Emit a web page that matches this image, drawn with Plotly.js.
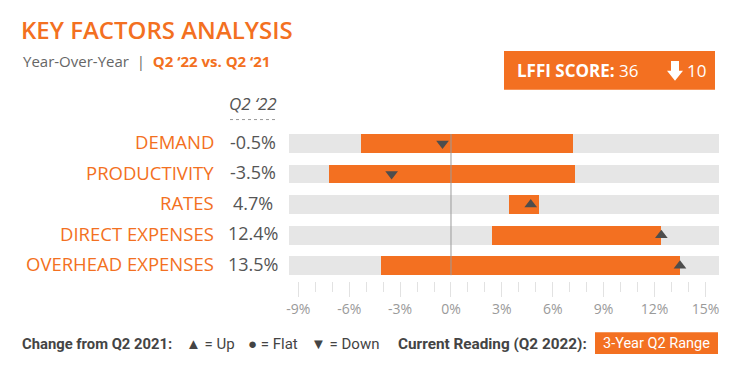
<!DOCTYPE html>
<html>
<head>
<meta charset="utf-8">
<script src="https://cdn.plot.ly/plotly-3.0.1.min.js"></script>
<style>html,body{margin:0;padding:0;background:#fff;}#chart{width:739px;height:373px;}</style>
</head>
<body>
<div id="chart"></div>
<script>
// ---- data ----
const categories = ['DEMAND', 'PRODUCTIVITY', 'RATES', 'DIRECT EXPENSES', 'OVERHEAD EXPENSES'];
const currentReading = [-0.5, -3.5, 4.7, 12.4, 13.5];
const rangeLow = [-5.3, -7.2, 3.4, 2.4, -4.1];
const rangeHigh = [7.2, 7.3, 5.2, 12.4, 13.5];
const changeDirection = ['down', 'down', 'up', 'up', 'up'];
const tickValues = [-9, -6, -3, 0, 3, 6, 9, 12, 15];
const tickLabels = ['-9%', '-6%', '-3%', '0%', '3%', '6%', '9%', '12%', '15%'];
const lffiScore = 36;
const lffiChange = 10;

// ---- layout helpers ----
const W = 739, H = 373;
const M = {l: 289, r: 20, t: 126.5, b: 91.5};
const PW = W - M.l - M.r, PH = H - M.t - M.b;
const px = x => (x - M.l) / PW;
const py = y => (H - M.b - y) / PH;
const axisMin = -9.55, axisMax = 15.8;

const ORANGE = '#F37021';
const GREY_BG = '#E6E6E6';
const DARK = '#555555';
const FONT = 'Open Sans';

const traces = [
  {
    type: 'bar', orientation: 'h', y: categories,
    x: categories.map(() => axisMax - axisMin), base: axisMin,
    marker: {color: GREY_BG}, width: 0.613, hoverinfo: 'skip', showlegend: false
  },
  {
    type: 'bar', orientation: 'h', y: categories,
    x: rangeHigh.map((h, i) => h - rangeLow[i]), base: rangeLow,
    marker: {color: ORANGE}, width: 0.613, showlegend: false
  },
  {
    type: 'scatter', mode: 'markers', y: categories, x: currentReading,
    marker: {
      symbol: changeDirection.map(d => d === 'up' ? 'triangle-up' : (d === 'down' ? 'triangle-down' : 'circle')),
      size: 11, color: '#4D4D4D', line: {width: 0}
    },
    showlegend: false
  }
];

const annotations = [];
categories.forEach((c, i) => {
  annotations.push({
    xref: 'paper', yref: 'y', x: px(216), y: c, xanchor: 'right', yanchor: 'middle', yshift: 2,
    text: c, showarrow: false, font: {family: FONT, size: 18.5, color: ORANGE}
  });
  annotations.push({
    xref: 'paper', yref: 'y', x: px(253), y: c, xanchor: 'center', yanchor: 'middle', yshift: 2,
    text: currentReading[i].toFixed(1) + '%', showarrow: false, font: {family: FONT, size: 18, color: DARK}
  });
});
// column header
annotations.push({
  xref: 'paper', yref: 'paper', x: px(253), y: py(103), xanchor: 'center', yanchor: 'middle',
  text: '<i>Q2 ‘22</i>', showarrow: false, font: {family: FONT, size: 17, color: DARK}
});
// subtitle
annotations.push({
  xref: 'paper', yref: 'paper', x: px(21), y: py(60), xanchor: 'left', yanchor: 'middle',
  text: 'Year-Over-Year  |  <b><span style="color:' + ORANGE + '">Q2 ‘22 vs. Q2 ‘21</span></b>',
  showarrow: false, font: {family: FONT, size: 15, color: '#666666'}
});
// score box texts
annotations.push({
  xref: 'paper', yref: 'paper', x: px(515), y: py(70), xanchor: 'left', yanchor: 'middle',
  text: '<b>LFFI SCORE:</b> ' + lffiScore, showarrow: false, font: {family: FONT, size: 17, color: '#FFFFFF'}
});
annotations.push({
  xref: 'paper', yref: 'paper', x: px(685), y: py(70), xanchor: 'left', yanchor: 'middle',
  text: String(lffiChange), showarrow: false, font: {family: FONT, size: 17, color: '#FFFFFF'}
});
// footer legend
[
  ['<b>Change from Q2 2021:</b>', 20, 14.8],
  ['▲ = Up', 184, 15],
  ['● = Flat', 246, 15],
  ['▼ = Down', 309, 15],
  ['<b>Current Reading (Q2 2022):</b>', 396, 15.3]
].forEach(([t, x, s]) => annotations.push({
  xref: 'paper', yref: 'paper', x: px(x), y: py(345), xanchor: 'left', yanchor: 'middle',
  text: t, showarrow: false, font: {family: 'Roboto', size: s, color: '#444444'}
}));
annotations.push({
  xref: 'paper', yref: 'paper', x: px(656.5), y: py(344), xanchor: 'center', yanchor: 'middle',
  text: '3-Year Q2 Range', showarrow: false,
  font: {family: 'Roboto', size: 14.5, color: '#FFFFFF'}
});

// block down arrow path in paper coords
const arrowPts = [[671, 60], [679, 60], [679, 70], [683, 70], [675, 80], [667, 70], [671, 70]];
const arrowPath = 'M' + arrowPts.map(p => px(p[0]) + ',' + py(p[1])).join(' L') + ' Z';

const shapes = [
  {type: 'line', xref: 'x', yref: 'y', x0: 0, x1: 0, y0: -0.31, y1: 4.31,
   line: {color: '#9A9A9A', width: 1}, layer: 'above'},
  {type: 'rect', xref: 'paper', yref: 'paper', x0: px(504), x1: px(715), y0: py(89), y1: py(50),
   fillcolor: ORANGE, line: {width: 0}, layer: 'below'},
  {type: 'path', xref: 'paper', yref: 'paper', path: arrowPath, fillcolor: '#FFFFFF', line: {width: 0}},
  {type: 'rect', xref: 'paper', yref: 'paper', x0: px(595), x1: px(718), y0: py(355), y1: py(333),
   fillcolor: ORANGE, line: {width: 0}, layer: 'below'},
  {type: 'line', xref: 'paper', yref: 'paper', x0: px(230), x1: px(275), y0: py(119), y1: py(119),
   line: {color: '#999999', width: 1, dash: 'dot'}}
];

const layout = {
  width: W, height: H, margin: M,
  paper_bgcolor: '#FFFFFF', plot_bgcolor: '#FFFFFF',
  font: {family: FONT},
  title: {
    text: 'KEY FACTORS ANALYSIS', xref: 'container', yref: 'container',
    x: 21 / W, xanchor: 'left', y: 1 - 31 / H, yanchor: 'middle',
    font: {family: FONT, size: 24, weight: 600, color: ORANGE}
  },
  barmode: 'overlay',
  bargap: 0,
  xaxis: {
    range: [axisMin, axisMax], tickmode: 'array', tickvals: tickValues, ticktext: tickLabels,
    ticks: 'outside', ticklen: 15, tickcolor: '#E2E2E2', tickwidth: 1,
    minor: {tickmode: 'linear', tick0: 0, dtick: 1, ticks: 'outside', ticklen: 10, tickcolor: '#E2E2E2', tickwidth: 1, showgrid: false},
    showgrid: false, zeroline: false, showline: false, fixedrange: true,
    tickfont: {family: FONT, size: 14, color: '#9A9A9A'}
  },
  yaxis: {
    type: 'category', autorange: 'reversed', showticklabels: false, ticks: '',
    showgrid: false, zeroline: false, showline: false, range: [4.5, -0.5]
  },
  annotations: annotations,
  shapes: shapes,
  showlegend: false
};

Plotly.newPlot('chart', traces, layout, {displayModeBar: false, staticPlot: true});
</script>
</body>
</html>
